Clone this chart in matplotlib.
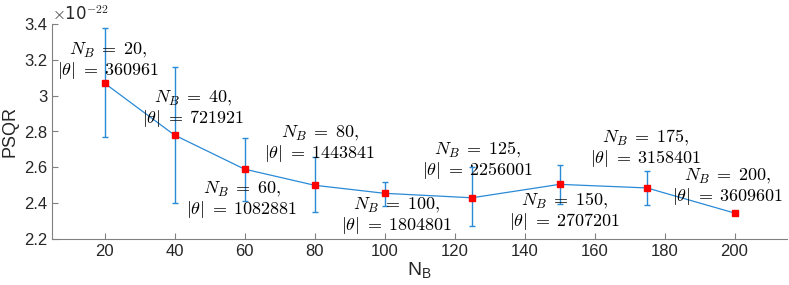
import numpy as np
import matplotlib
matplotlib.use('Agg')
import matplotlib.pyplot as plt
from matplotlib.ticker import FuncFormatter

plt.rcParams['mathtext.fontset'] = 'cm'
plt.rcParams['font.family'] = ['Liberation Sans', 'DejaVu Sans']

# PSQR values in units of 1e-22
nb = [20, 40, 60, 80, 100, 125, 150, 175, 200]
psqr = [3.07, 2.78, 2.59, 2.50, 2.455, 2.43, 2.505, 2.485, 2.345]
err_hi = [3.375, 3.16, 2.765, 2.655, 2.52, 2.60, 2.615, 2.58, 2.345]
err_lo = [2.77, 2.40, 2.41, 2.35, 2.385, 2.27, 2.395, 2.39, 2.345]
theta = [360961, 721921, 1082881, 1443841, 1804801, 2256001, 2707201, 3158401, 3609601]
# label centres (data coords)
lab_x = [21, 45.3, 59.3, 81.6, 103.6, 126.7, 151.6, 174.7, 198.1]
lab_y = [3.192, 2.926, 2.418, 2.731, 2.328, 2.639, 2.356, 2.703, 2.490]

psqr = np.array(psqr)
yerr = [psqr - np.array(err_lo), np.array(err_hi) - psqr]

fig = plt.figure(figsize=(7.89, 2.85), dpi=100)
ax = fig.add_axes([52/789, 1 - 239/285, (787-52)/789, (239-24)/285])

blue = '#2a8ad6'
ax.errorbar(nb, psqr, yerr=yerr, color=blue, lw=0.9, elinewidth=1.0,
            capsize=2, capthick=1.0, zorder=2)
ax.plot(nb, psqr, 's', color='red', ms=4.6, zorder=3)

for x, y, n, t in zip(lab_x, lab_y, nb, theta):
    ax.text(x, y, r'$N_B\;=\;%d,$' % n + '\n' + r'$|\theta|\;=\;%d$' % t,
            ha='center', va='center', fontsize=13, linespacing=1.0)

ax.set_xlim(5, 215)
ax.set_ylim(2.2, 3.4)
ax.set_xticks(range(20, 201, 20))
ax.set_yticks(np.arange(2.2, 3.41, 0.2))
ax.yaxis.set_major_formatter(FuncFormatter(lambda v, p: '%g' % round(v, 2)))

for s in ['top', 'right']:
    ax.spines[s].set_visible(False)
for s in ['left', 'bottom']:
    ax.spines[s].set_color('#808080')
    ax.spines[s].set_linewidth(0.8)
ax.tick_params(direction='in', length=4, color='#808080', labelsize=12,
               labelcolor='#262626', width=0.8)

ax.set_xlabel(r'N$_\mathregular{B}$', fontsize=14, color='#262626', labelpad=1)
ax.set_ylabel('PSQR', fontsize=13, color='#262626', labelpad=4)
ax.text(0.0, 1.0, r'$\times$10$^{-22}$', transform=ax.transAxes, fontsize=12,
        color='#262626', va='bottom', ha='left', family='DejaVu Sans')

fig.savefig('out.png', dpi=100)
